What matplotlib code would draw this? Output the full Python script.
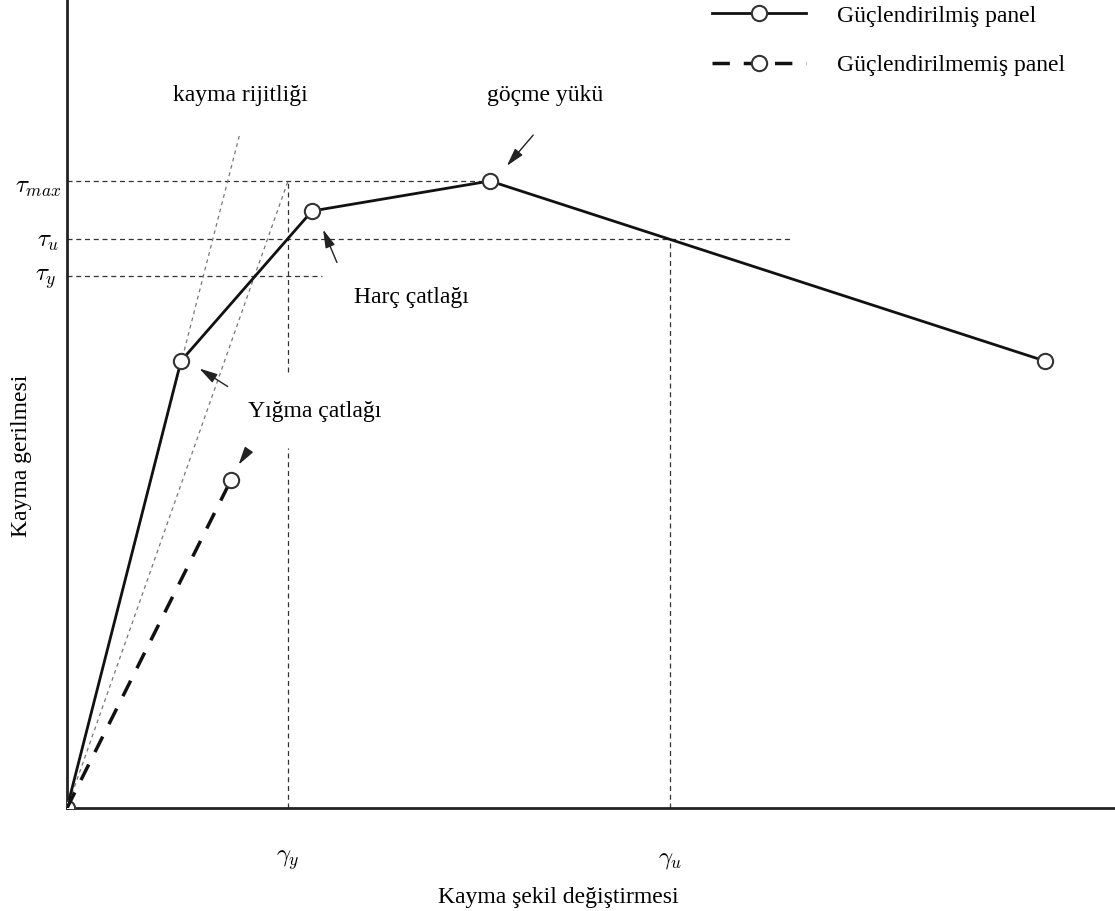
import numpy as np
import matplotlib.pyplot as plt

# Shear stress-strain curves (arbitrary units)
strain_strengthened = [0, 114, 245, 423, 978]
stress_strengthened = [0, 447, 597, 627, 447]
strain_plain = [0, 164]
stress_plain = [0, 328]

tau_max = 627
tau_u = 569
tau_y = 532
gamma_y = 221
gamma_u = 603
stiffness_top = [173, 675]

plt.rcParams['font.family'] = ['Liberation Serif', 'DejaVu Serif']
plt.rcParams['mathtext.fontset'] = 'cm'

W, H = 1115, 911
fig = plt.figure(figsize=(W / 100, H / 100), dpi=100)
# axes origin at pixel (67, 808)
ax = fig.add_axes([67 / W, (H - 808) / H, (W - 67) / W, 808 / H])
ax.set_xlim(0, W - 67)
ax.set_ylim(0, 808)
ax.set_xticks([])
ax.set_yticks([])
for s in ['top', 'right']:
    ax.spines[s].set_visible(False)
for s in ['left', 'bottom']:
    ax.spines[s].set_linewidth(2)
    ax.spines[s].set_color('#222222')

# reference dashed lines
dkw = dict(color='#333333', lw=0.9, ls=(0, (4, 3)))
ax.plot([0, strain_strengthened[3]], [tau_max, tau_max], **dkw)
ax.plot([0, 723], [tau_u, tau_u], **dkw)
ax.plot([0, 255], [tau_y, tau_y], **dkw)
ax.plot([gamma_y, gamma_y], [0, 360], **dkw)
ax.plot([gamma_y, gamma_y], [436, tau_max], **dkw)
ax.plot([gamma_u, gamma_u], [0, tau_u], **dkw)

# stiffness lines
skw = dict(color='#777777', lw=0.9, ls=(0, (3, 3)))
ax.plot([0, stiffness_top[0]], [0, stiffness_top[1]], **skw)
ax.plot([0, gamma_y], [0, tau_max], **skw)

# curves
ax.plot(strain_strengthened, stress_strengthened, color='#111111', lw=2,
        marker='o', ms=11, mfc='white', mec='#333333', mew=1.5,
        label='Güçlendirilmiş panel', zorder=5)
ax.plot(strain_plain, stress_plain, color='#111111', lw=2.5, ls=(0, (5, 4)),
        marker='o', ms=11, mfc='white', mec='#333333', mew=1.5, markevery=[1],
        label='Güçlendirilmemiş panel', zorder=5)

# annotations
akw = dict(arrowstyle='-|>,head_length=1.1,head_width=0.3', color='#222222',
           lw=1.0, mutation_scale=10)
ax.annotate('', xy=(438, 640), xytext=(468, 675), arrowprops=akw)
ax.annotate('', xy=(255, 581), xytext=(271, 543), arrowprops=akw)
ax.annotate('', xy=(130, 441), xytext=(163, 420), arrowprops=akw)
ax.annotate('', xy=(170, 341), xytext=(183, 360), arrowprops=akw)

fs = 17
ax.text(173, 713, 'kayma rijitliği', fontsize=fs, ha='center', va='center')
ax.text(478, 713, 'göçme yükü', fontsize=fs, ha='center', va='center')
ax.text(344, 510, 'Harç çatlağı', fontsize=fs, ha='center', va='center')
ax.text(248, 396, 'Yığma çatlağı', fontsize=fs, ha='center', va='center')

# tau / gamma labels
fig.text(38 / W, 1 - 188 / H, r'$\tau_{max}$', fontsize=18, ha='center', va='center')
fig.text(48 / W, 1 - 242 / H, r'$\tau_{u}$', fontsize=18, ha='center', va='center')
fig.text(46 / W, 1 - 279 / H, r'$\tau_{y}$', fontsize=18, ha='center', va='center')
ax.text(gamma_y, -52, r'$\gamma_y$', fontsize=18, ha='center', va='center', clip_on=False)
ax.text(gamma_u, -52, r'$\gamma_u$', fontsize=18, ha='center', va='center', clip_on=False)

fig.text(558 / W, 1 - 897 / H, 'Kayma şekil değiştirmesi', fontsize=fs, ha='center', va='center')
fig.text(22 / W, 1 - 456 / H, 'Kayma gerilmesi', fontsize=fs, ha='center', va='center', rotation=90)

ax.legend(loc='upper left', bbox_to_anchor=(712 / W, 1 - 5 / H), bbox_transform=fig.transFigure,
          frameon=False, fontsize=fs, borderpad=0, borderaxespad=0,
          handlelength=4.0, labelspacing=1.2, handletextpad=1.3)

fig.savefig('out.png', dpi=100)
